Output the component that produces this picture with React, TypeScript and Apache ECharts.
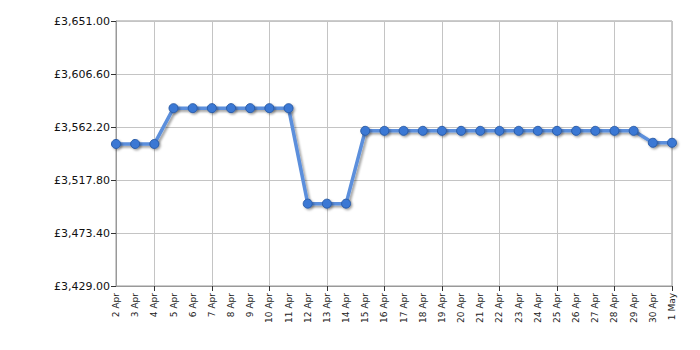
import React, { useEffect, useRef } from "react";
import * as echarts from "echarts";

const categories = [
  "2 Apr", "3 Apr", "4 Apr", "5 Apr", "6 Apr", "7 Apr", "8 Apr", "9 Apr", "10 Apr", "11 Apr",
  "12 Apr", "13 Apr", "14 Apr", "15 Apr", "16 Apr", "17 Apr", "18 Apr", "19 Apr", "20 Apr", "21 Apr",
  "22 Apr", "23 Apr", "24 Apr", "25 Apr", "26 Apr", "27 Apr", "28 Apr", "29 Apr", "30 Apr", "1 May",
];
const prices = [
  3548, 3548, 3548, 3578, 3578, 3578, 3578, 3578, 3578, 3578,
  3498, 3498, 3498, 3559, 3559, 3559, 3559, 3559, 3559, 3559,
  3559, 3559, 3559, 3559, 3559, 3559, 3559, 3559, 3549, 3549,
];
const yMin = 3429;
const yMax = 3651;
const yStep = 44.4;

export default function App() {
  const ref = useRef<HTMLDivElement>(null);
  useEffect(() => {
    document.body.style.margin = "0";
    const chart = echarts.init(ref.current!, undefined, { renderer: "svg" });
    const font = "'DejaVu Sans', Verdana, sans-serif";
    chart.setOption({
      animation: false,
      grid: { left: 116, right: 28, top: 21, bottom: 64, show: true, borderColor: "#999", borderWidth: 1 },
      xAxis: {
        type: "category",
        data: categories,
        boundaryGap: false,
        axisLine: { lineStyle: { color: "#999" } },
        axisTick: { interval: (i: number) => (i - 2) % 3 === 0, length: 5, lineStyle: { color: "#333" } },
        axisLabel: { interval: 0, rotate: 90, fontSize: 9, color: "#222", fontFamily: font, margin: 7 },
        splitLine: { show: true, interval: (i: number) => (i - 2) % 3 === 0, lineStyle: { color: "#c4c4c4" } },
      },
      yAxis: {
        type: "value",
        min: yMin,
        max: yMax,
        interval: yStep,
        axisLine: { show: true, lineStyle: { color: "#999" } },
        axisTick: { show: true, length: 5, lineStyle: { color: "#333" } },
        axisLabel: {
          fontSize: 11,
          color: "#111",
          fontFamily: font,
          margin: 6,
          formatter: (v: number) =>
            "£" + v.toLocaleString("en-GB", { minimumFractionDigits: 2, maximumFractionDigits: 2 }),
        },
        splitLine: { show: true, lineStyle: { color: "#c4c4c4" } },
      },
      series: [
        {
          type: "line",
          data: prices,
          symbol: "circle",
          symbolSize: 9,
          lineStyle: {
            color: "#5b8fdc",
            width: 3.5,
            shadowColor: "rgba(0,0,0,0.35)",
            shadowBlur: 2,
            shadowOffsetX: 2,
            shadowOffsetY: 2,
          },
          itemStyle: {
            color: "#3b78d4",
            borderColor: "#2a5ca8",
            borderWidth: 1,
            shadowColor: "rgba(0,0,0,0.35)",
            shadowBlur: 2,
            shadowOffsetX: 1.5,
            shadowOffsetY: 1.5,
          },
        },
      ],
    });
    return () => chart.dispose();
  }, []);
  return <div ref={ref} style={{ width: 700, height: 350 }} />;
}
